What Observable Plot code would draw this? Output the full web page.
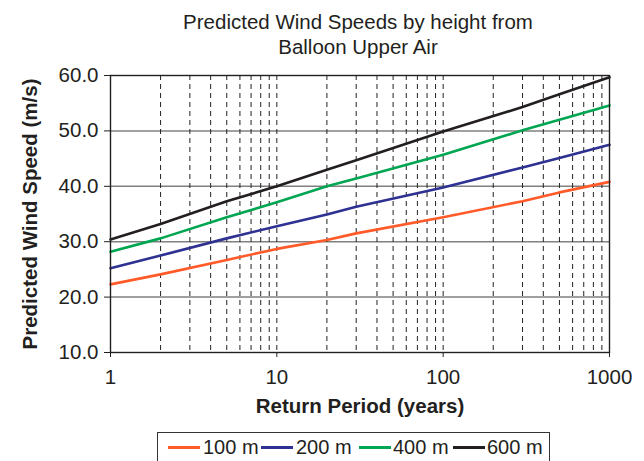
<!DOCTYPE html>
<html>
<head>
<meta charset="utf-8">
<script src="https://cdn.jsdelivr.net/npm/d3@7"></script>
<script src="https://cdn.jsdelivr.net/npm/@observablehq/plot@0.6"></script>
<style>
  body { margin: 0; background: #fff; font-family: "Liberation Sans", Arial, sans-serif; }
  #wrap { position: relative; width: 644px; height: 461px; overflow: hidden; }
  #title { position: absolute; left: 58px; width: 600px; top: 9px; text-align: center; font-size: 20.5px; line-height: 25px; color: #231f20; }
  #chart { position: absolute; left: 0; top: 0; }
  #legend { position: absolute; left: 157px; top: 432px; width: 393px; height: 40px; border: 1px solid #333; box-sizing: border-box; font-size: 20px; color: #231f20; white-space: nowrap; background: #fff; }
  .item { position: absolute; top: 3px; }
  .sw { position: absolute; top: 13px; width: 32px; height: 2.5px; }
</style>
</head>
<body>
<div id="wrap">
  <div id="chart"></div>
  <div id="title">Predicted Wind Speeds by height from<br>Balloon Upper Air</div>
  <div id="legend"></div>
</div>
<script>
// Return periods (years)
const returnPeriods = [1, 2, 5, 10, 20, 30, 100, 300, 500, 1000];
// Series values (m/s)
const h100 = [22.3, 24.1, 26.7, 28.7, 30.3, 31.5, 34.4, 37.3, 38.9, 40.8];
const h200 = [25.2, 27.5, 30.6, 32.8, 34.9, 36.3, 39.8, 43.4, 45.1, 47.5];
const h400 = [28.2, 30.6, 34.4, 37.1, 40.0, 41.4, 45.7, 50.1, 52.0, 54.6];
const h600 = [30.4, 33.2, 37.3, 40.0, 43.0, 44.7, 49.9, 54.3, 56.6, 59.7];
const seriesNames = ["100 m", "200 m", "400 m", "600 m"];
const seriesColors = ["#ff5a28", "#2e3192", "#00a651", "#231f20"];
const yTicks = [10, 20, 30, 40, 50, 60];
const xTicks = [1, 10, 100, 1000];
const xMinor = [2,3,4,5,6,7,8,9,10,20,30,40,50,60,70,80,90,100,200,300,400,500,600,700,800,900];
const yGrid = [20, 30, 40, 50];

const allSeries = [h100, h200, h400, h600];
const rows = [];
allSeries.forEach((vals, i) => vals.forEach((v, j) => rows.push({period: returnPeriods[j], speed: v, series: seriesNames[i]})));

const chart = Plot.plot({
  width: 644,
  height: 461,
  marginTop: 75,
  marginLeft: 110,
  marginRight: 35,
  marginBottom: 109,
  style: {fontFamily: "Liberation Sans, Arial, sans-serif", fontSize: "20px", color: "#231f20", background: "transparent"},
  x: {type: "log", domain: [1, 1000]},
  y: {domain: [10, 60]},
  color: {domain: seriesNames, range: seriesColors},
  marks: [
    Plot.ruleY(yGrid, {stroke: "#808080", strokeWidth: 1.5}),
    Plot.ruleX(xMinor, {stroke: "#222", strokeWidth: 1, strokeDasharray: "5,4"}),
    Plot.line(rows, {x: "period", y: "speed", z: "series", stroke: "series", strokeWidth: 2.6}),
    Plot.frame({stroke: "#231f20", strokeWidth: 1.4}),
    Plot.axisY({ticks: yTicks, tickSize: 6, tickPadding: 6, tickFormat: d => d.toFixed(1), label: null, fontSize: 20.5, stroke: "#231f20"}),
    Plot.axisX({ticks: xTicks, tickSize: 5, tickPadding: 12, tickFormat: d => String(d), label: null, fontSize: 20.5, stroke: "#231f20"}),
    Plot.text(["Return Period (years)"], {frameAnchor: "bottom", dy: 60, fontWeight: "bold", fontSize: 20.5, fill: "#231f20"}),
    Plot.text(["Predicted Wind Speed (m/s)"], {frameAnchor: "left", textAnchor: "middle", dx: -80, rotate: -90, fontWeight: "bold", fontSize: 20.5, fill: "#231f20"})
  ]
});
document.getElementById("chart").appendChild(chart);

// Legend
const legend = document.getElementById("legend");
const swX = [10, 103, 201, 295];
const txtX = [45, 138, 235, 329];
seriesNames.forEach((name, i) => {
  const sw = document.createElement("div");
  sw.className = "sw";
  sw.style.left = swX[i] + "px";
  sw.style.background = seriesColors[i];
  legend.appendChild(sw);
  const t = document.createElement("div");
  t.className = "item";
  t.style.left = txtX[i] + "px";
  t.textContent = name;
  legend.appendChild(t);
});
</script>
</body>
</html>
